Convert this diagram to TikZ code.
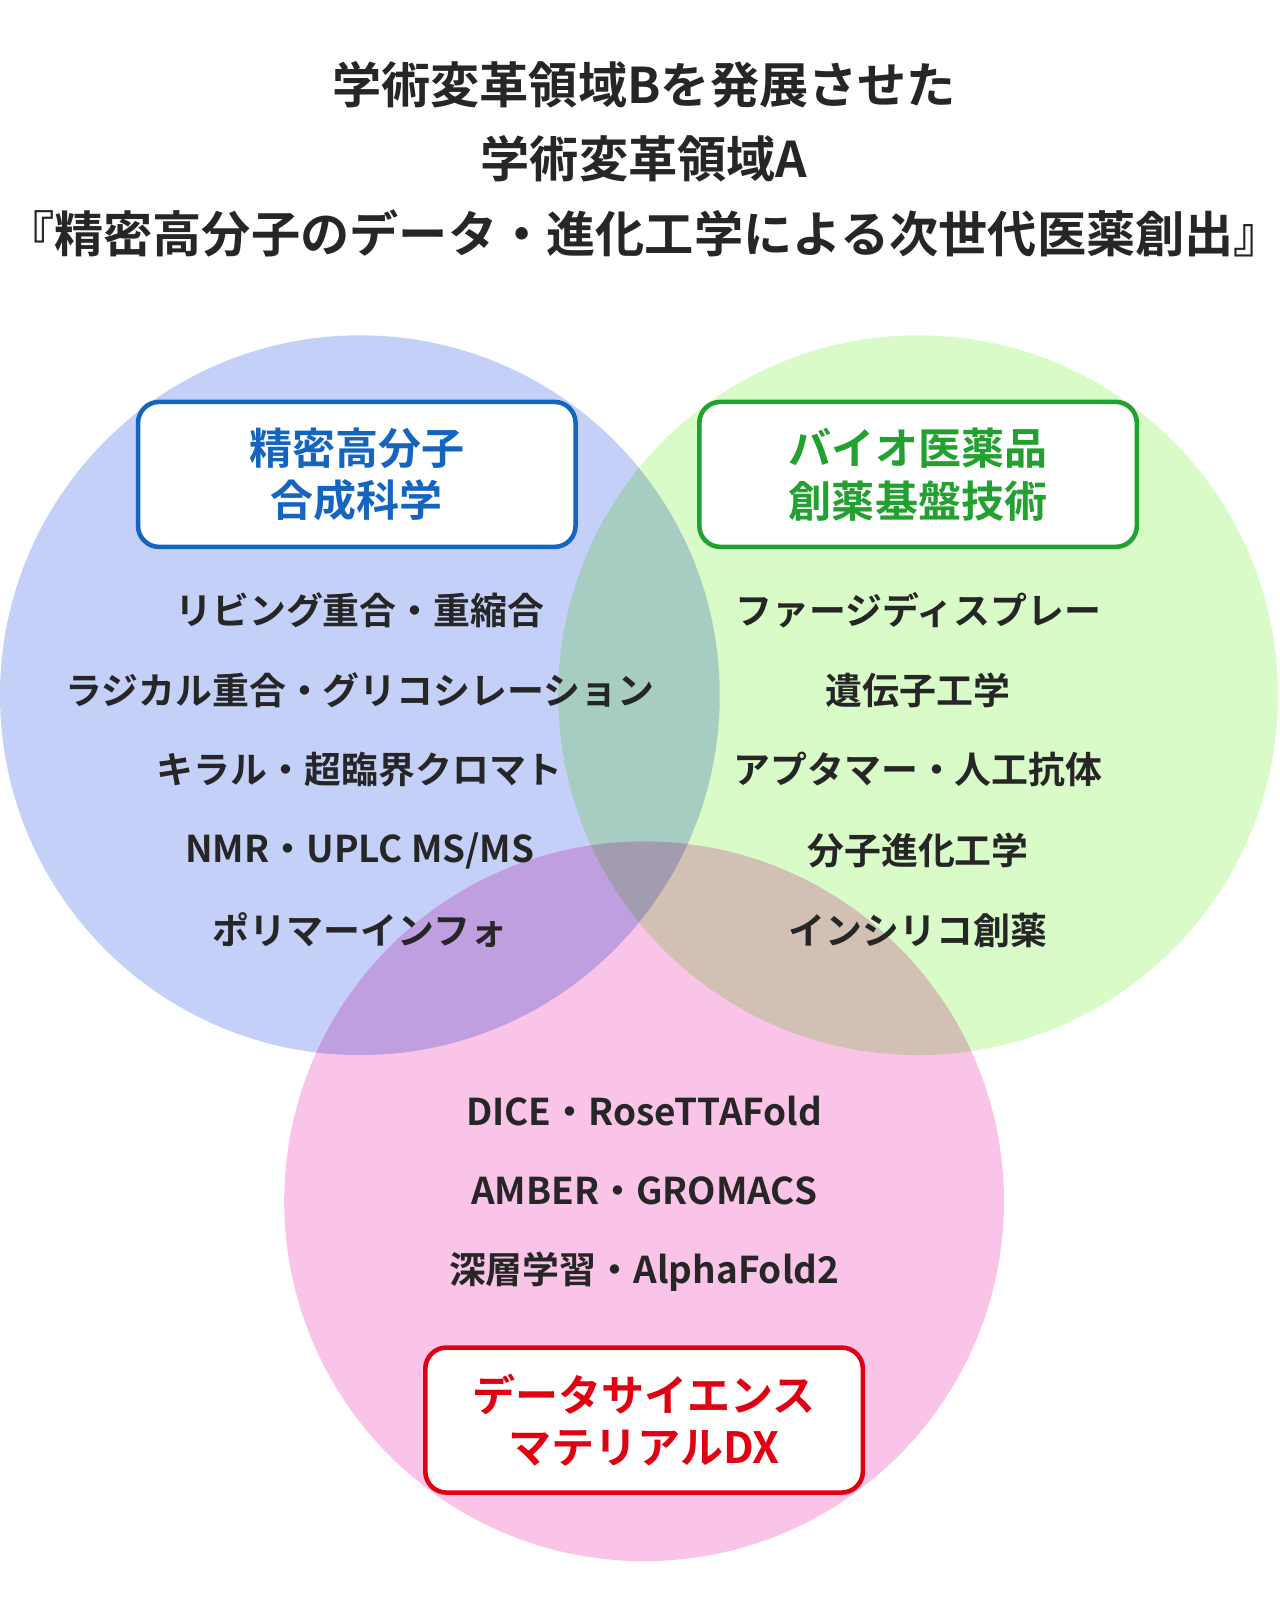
\documentclass[tikz,border=0pt]{standalone}
\usepackage{fontspec}
\setmainfont{Noto Sans CJK JP}[BoldFont={Noto Sans CJK JP Bold}]
\usetikzlibrary{positioning}
\definecolor{leftfill}{HTML}{C5D0F8}
\definecolor{rightfill}{HTML}{D9FBC8}
\definecolor{bottomfill}{HTML}{F9C4E8}
\definecolor{blueline}{HTML}{1565C0}
\definecolor{greenline}{HTML}{22A030}
\definecolor{redline}{HTML}{E00012}
\definecolor{ink}{HTML}{262626}
\tikzset{
  titletext/.style={font=\bfseries\fontsize{28}{32}\selectfont, text=ink},
  itemtext/.style={font=\bfseries\fontsize{21}{24}\selectfont, text=ink},
  labelbox/.style={draw, line width=2.6pt, rounded corners=12pt, fill=white,
    minimum width=8.75cm, minimum height=2.9cm, align=center,
    font=\bfseries\fontsize{24.5}{30}\selectfont}
}
\begin{document}
\begin{tikzpicture}[x=0.02045cm, y=-0.02045cm]
    \useasboundingbox (0,0) rectangle (1252,1565);

    % circles
    \begin{scope}[transparency group]
        \begin{scope}[blend mode=multiply]
            \fill[leftfill] (352,680) circle (352);
            \fill[rightfill] (898,680) circle (352);
            \fill[bottomfill] (630,1175) circle (352);
        \end{scope}
    \end{scope}

    % title
    \node[titletext] (title1) at (630,83) {学術変革領域Bを発展させた};
    \node[titletext] (title2) at (630,155) {学術変革領域A};
    \node[titletext] (title3) at (630,228) {『精密高分子のデータ・進化工学による次世代医薬創出』};

    % boxes
    \node[labelbox, draw=blueline, text=blueline] (chem) at (349,464) {精密高分子\\合成科学};
    \node[labelbox, draw=greenline, text=greenline] (bio) at (898,464) {バイオ医薬品\\創薬基盤技術};
    \node[labelbox, draw=redline, text=redline] (data) at (630,1389) {データサイエンス\\マテリアルDX};

    % left items
    \node[itemtext] (chem1) at (352,597) {リビング重合・重縮合};
    \node[itemtext] (chem2) at (352,675) {ラジカル重合・グリコシレーション};
    \node[itemtext] (chem3) at (352,753) {キラル・超臨界クロマト};
    \node[itemtext] (chem4) at (352,832) {NMR・UPLC MS/MS};
    \node[itemtext] (chem5) at (352,910) {ポリマーインフォ};

    % right items
    \node[itemtext] (bio1) at (898,597) {ファージディスプレー};
    \node[itemtext] (bio2) at (898,675) {遺伝子工学};
    \node[itemtext] (bio3) at (898,753) {アプタマー・人工抗体};
    \node[itemtext] (bio4) at (898,832) {分子進化工学};
    \node[itemtext] (bio5) at (898,910) {インシリコ創薬};

    % bottom items
    \node[itemtext] (data1) at (630,1087) {DICE・RoseTTAFold};
    \node[itemtext] (data2) at (630,1165) {AMBER・GROMACS};
    \node[itemtext] (data3) at (630,1244) {深層学習・AlphaFold2};
\end{tikzpicture}
\end{document}
